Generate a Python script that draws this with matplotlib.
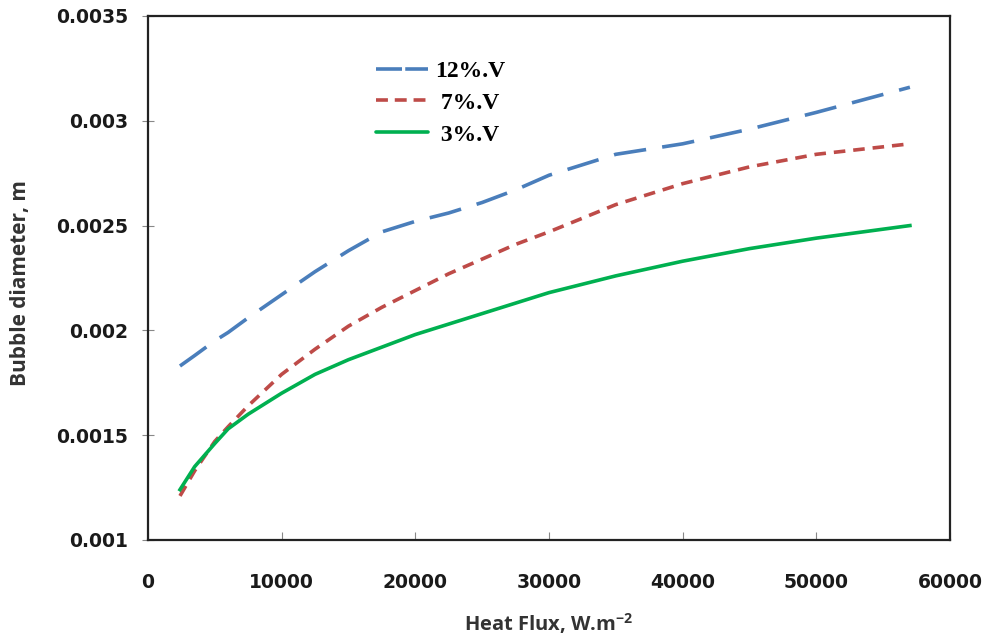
import matplotlib
matplotlib.use("Agg")
import matplotlib.pyplot as plt
from matplotlib.lines import Line2D

plt.rcParams["mathtext.fontset"] = "custom"
plt.rcParams["mathtext.rm"] = "Open Sans:bold"
plt.rcParams["mathtext.default"] = "rm"

# Data
heat_flux = [2400, 3500, 5000, 6000, 7500, 10000, 12500, 15000, 17500, 20000, 22500, 25000, 27500, 30000, 35000, 40000, 45000, 50000, 57000]
d_12 = [0.00183, 0.00188, 0.00195, 0.00199, 0.00206, 0.00217, 0.00228, 0.00238, 0.00247, 0.00252, 0.00256, 0.00261, 0.00267, 0.00274, 0.00284, 0.00289, 0.00296, 0.00304, 0.00316]
d_7 = [0.00121, 0.00133, 0.00147, 0.00154, 0.00164, 0.00179, 0.00191, 0.00202, 0.00211, 0.00219, 0.00227, 0.00234, 0.00241, 0.00247, 0.00260, 0.00270, 0.00278, 0.00284, 0.00289]
d_3 = [0.00124, 0.00135, 0.00146, 0.00153, 0.00160, 0.00170, 0.00179, 0.00186, 0.00192, 0.00198, 0.00203, 0.00208, 0.00213, 0.00218, 0.00226, 0.00233, 0.00239, 0.00244, 0.00250]
labels = ["12%.V", " 7%.V", " 3%.V"]
x_ticks = [0, 10000, 20000, 30000, 40000, 50000, 60000]
y_ticks = [0.001, 0.0015, 0.002, 0.0025, 0.003, 0.0035]
y_tick_labels = ["0.001", "0.0015", "0.002", "0.0025", "0.003", "0.0035"]

colors = ["#4A7EBB", "#BE4B48", "#00B050"]

fig = plt.figure(figsize=(9.86, 6.39), dpi=100)
ax = fig.add_axes([0.150, 0.155, 0.8135, 0.82])

ax.plot(heat_flux, d_12, color=colors[0], lw=2.6, dashes=(9, 4.5))
ax.plot(heat_flux, d_7, color=colors[1], lw=2.6, dashes=(3.2, 2.2))
ax.plot(heat_flux, d_3, color=colors[2], lw=2.6)

ax.set_xlim(0, 60000)
ax.set_ylim(0.001, 0.0035)
ax.set_xticks(x_ticks)
ax.set_xticklabels([str(v) for v in x_ticks])
ax.set_yticks(y_ticks)
ax.set_yticklabels(y_tick_labels)

for s in ax.spines.values():
    s.set_linewidth(1.6)
    s.set_color("#222222")

ax.tick_params(axis="x", direction="in", length=6, width=0.8, color="#888888", pad=24)
ax.tick_params(axis="y", direction="inout", length=8, width=0.8, color="#888888", pad=10.5)
for lab in ax.get_xticklabels() + ax.get_yticklabels():
    lab.set_fontfamily("DejaVu Sans")
    lab.set_fontweight("bold")
    lab.set_fontsize(13.5)
    lab.set_color("#1a1a1a")

ax.set_xlabel("Heat Flux, W.m$^{-2}$", fontsize=14.5, fontweight="bold", family="Open Sans",
              color="#333333")
ax.set_ylabel("Bubble diameter, m", fontsize=15, fontweight="bold", family="Open Sans",
              color="#333333")
ax.xaxis.set_label_coords(0.5, -0.135)
ax.yaxis.set_label_coords(-0.146, 0.49)

handles = [
    Line2D([], [], color=colors[0], lw=2.6, dashes=(7.2, 0.9)),
    Line2D([], [], color=colors[1], lw=2.6, dashes=(3.3, 1.9)),
    Line2D([], [], color=colors[2], lw=2.6, solid_capstyle="round"),
]
leg = ax.legend(handles, labels, loc="upper left", bbox_to_anchor=(0.258, 0.956), frameon=False,
                prop={"family": "Liberation Serif", "weight": "bold", "size": 17},
                handlelength=2.2, labelspacing=0.44, handletextpad=0.3)

fig.savefig("out.png", dpi=100)
